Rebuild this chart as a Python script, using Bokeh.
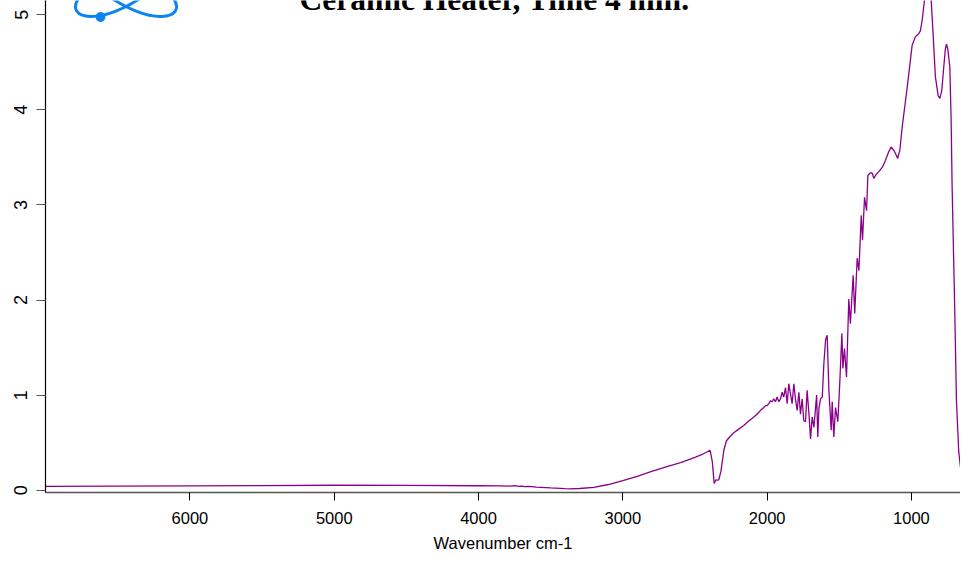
from bokeh.plotting import figure
from bokeh.models import Range1d, FixedTicker
from bokeh.core.properties import value
from bokeh.embed import file_html
from bokeh.resources import INLINE

# ---- data ----
wavenumber = [7000, 6500, 6000, 5500, 5000, 4500, 4000, 3850, 3780, 3750, 3720, 3700,
              3680, 3650, 3600, 3500, 3400, 3370, 3300, 3200, 3100, 3000, 2900, 2800,
              2700, 2600, 2500, 2450, 2395, 2380, 2367, 2355, 2346, 2335, 2320, 2300,
              2282, 2260, 2231, 2200, 2162, 2130, 2092, 2060, 2046, 2023, 2011, 2000,
              1988, 1977, 1965, 1954, 1942, 1931, 1919, 1907, 1896, 1885, 1873, 1861,
              1850, 1838, 1827, 1815, 1804, 1792, 1780, 1769, 1757, 1746, 1734, 1723,
              1711, 1699, 1688, 1676, 1657, 1649, 1641, 1630, 1618, 1607, 1595, 1584,
              1572, 1556, 1549, 1538, 1526, 1510, 1496, 1482, 1475, 1464, 1450, 1434,
              1423, 1404, 1393, 1376, 1364, 1348, 1339, 1325, 1311, 1302, 1290, 1279,
              1270, 1261, 1245, 1226, 1200, 1180, 1160, 1141, 1120, 1095, 1080, 1064,
              1029, 995, 972, 950, 938, 925, 910, 895, 887, 875, 863, 850, 834, 815,
              803, 790, 776, 765, 757, 748, 734, 725, 718, 700, 688, 672, 656, 640,
              625, 619, 612, 605]
absorbance = [0.040, 0.042, 0.046, 0.049, 0.052, 0.051, 0.047, 0.045, 0.044, 0.048, 0.040, 0.043,
              0.038, 0.041, 0.033, 0.024, 0.016, 0.015, 0.018, 0.030, 0.060, 0.100, 0.145, 0.197,
              0.245, 0.290, 0.345, 0.376, 0.420, 0.300, 0.070, 0.110, 0.105, 0.110, 0.200, 0.420,
              0.520, 0.560, 0.605, 0.640, 0.680, 0.725, 0.770, 0.815, 0.840, 0.870, 0.890, 0.890,
              0.910, 0.940, 0.930, 0.960, 0.930, 0.980, 0.930, 0.960, 1.030, 0.980, 1.080, 0.910,
              1.120, 1.010, 0.910, 1.120, 0.960, 0.840, 1.030, 0.800, 0.960, 0.730, 0.720, 1.050,
              0.820, 0.540, 0.770, 0.660, 1.000, 0.560, 0.860, 0.960, 0.980, 1.330, 1.580, 1.630,
              1.050, 0.630, 0.930, 0.560, 0.870, 0.720, 1.150, 1.650, 1.280, 1.490, 1.190, 2.010,
              1.750, 2.260, 1.860, 2.440, 2.310, 2.890, 2.630, 3.080, 2.940, 3.310, 3.330, 3.340,
              3.330, 3.280, 3.320, 3.350, 3.400, 3.470, 3.550, 3.610, 3.570, 3.490, 3.580, 3.820,
              4.240, 4.680, 4.770, 4.800, 4.830, 4.950, 5.150, 5.320, 5.340, 5.300, 5.150, 4.800,
              4.350, 4.150, 4.120, 4.200, 4.450, 4.640, 4.690, 4.640, 4.450, 3.900, 3.190, 1.900,
              0.940, 0.400, 0.190, 0.100, 0.030, 0.005, 0.015, 0.040]
x_ticks = [1000, 2000, 3000, 4000, 5000, 6000]
y_ticks = [0, 1, 2, 3, 4, 5]
title_text = "Ceramic Heater, Time 4 min."
x_label = "Wavenumber cm-1"

X_LO, X_HI = 7001, 660
Y_LO, Y_HI = -0.024, 5.150

# helpers converting figure pixels to data coordinates (for decorations only)
FR_L, FR_R, FR_T, FR_B = 45, 960, 0, 492
def px_x(x):
    return X_LO + (x - FR_L) / (FR_R - FR_L) * (X_HI - X_LO)
def px_y(y):
    return Y_HI + (y - FR_T) / (FR_B - FR_T) * (Y_LO - Y_HI)

p = figure(width=960, height=554, output_backend="svg", toolbar_location=None,
           x_range=Range1d(X_LO, X_HI), y_range=Range1d(Y_LO, Y_HI),
           min_border_left=45, min_border_right=0, min_border_top=0, min_border_bottom=62)
p.outline_line_color = None
p.xgrid.visible = False
p.ygrid.visible = False
p.background_fill_color = "white"
p.border_fill_color = "white"

p.line(wavenumber, absorbance, color="#8B008B", line_width=1.3)

# title (partially cut off at the top as in the reference)
p.text(x=[px_x(494)], y=[px_y(-1)], text=[title_text], text_align="center",
       text_baseline="alphabetic", text_font=value("Liberation Serif"),
       text_font_style="bold", text_font_size="31.5px", text_color="black")

# logo
logo_col = "#0B84F3"
p.bezier(x0=[px_x(78), px_x(173)], y0=[px_y(-2), px_y(-2)],
         x1=[px_x(148), px_x(103)], y1=[px_y(-8), px_y(-8)],
         cx0=[px_x(64), px_x(187)], cy0=[px_y(18), px_y(18)],
         cx1=[px_x(100), px_x(151)], cy1=[px_y(28), px_y(28)],
         line_color=logo_col, line_width=3)
p.scatter(x=[px_x(100)], y=[px_y(16.5)], size=9, color=logo_col)

font = "Liberation Sans"
fs = "16.5px"
xa = p.xaxis[0]
xa.ticker = FixedTicker(ticks=x_ticks)
xa.axis_label = x_label
xa.axis_label_text_font = font
xa.axis_label_text_font_size = fs
xa.axis_label_text_font_style = "normal"
xa.axis_label_text_color = "black"
xa.axis_label_standoff = 7
xa.major_label_text_font = font
xa.major_label_text_font_size = fs
xa.major_label_text_color = "black"
xa.major_label_standoff = 11
xa.major_tick_in = 0
xa.major_tick_out = 8
xa.major_tick_line_color = "black"
xa.minor_tick_line_color = None
xa.axis_line_color = "#555555"
xa.axis_line_width = 1.5

ya = p.yaxis[0]
ya.ticker = FixedTicker(ticks=y_ticks)
ya.major_label_text_font = font
ya.major_label_text_font_size = "18px"
ya.major_label_text_color = "black"
ya.major_label_orientation = "vertical"
ya.major_label_standoff = 9
ya.major_tick_in = 0
ya.major_tick_out = 9
ya.major_tick_line_color = "#555555"
ya.minor_tick_line_color = None
ya.axis_line_color = "black"
ya.axis_line_width = 1.2

open("out.html", "w").write(file_html(p, INLINE))
